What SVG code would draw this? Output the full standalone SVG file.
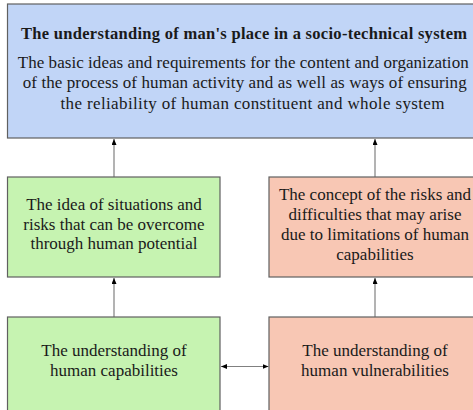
<svg xmlns="http://www.w3.org/2000/svg" width="473" height="410" viewBox="0 0 473 410">
<style>
.box{stroke:#606060;stroke-width:1.2}
.blue{fill:#c1d5f7}
.green{fill:#c6f3b1}
.salmon{fill:#f8c7b4}
text{font-family:"Liberation Serif","Times New Roman",serif;font-size:17px;fill:#1a1a1a;text-anchor:middle}
.title{font-weight:bold;font-size:16.5px}
.conn{stroke:#808080;stroke-width:1.2;fill:none}
</style>
<defs>
<marker id="ah" viewBox="0 0 6 5" refX="6" refY="2.5" markerWidth="6" markerHeight="5" markerUnits="userSpaceOnUse" orient="auto-start-reverse">
<path d="M0,0 L6,2.5 L0,5 z" fill="#000"/>
</marker>
</defs>
<g id="connectors">
<line class="conn" x1="114" y1="177" x2="114" y2="139" marker-end="url(#ah)"/>
<line class="conn" x1="375" y1="177" x2="375" y2="139" marker-end="url(#ah)"/>
<line class="conn" x1="114" y1="317" x2="114" y2="278" marker-end="url(#ah)"/>
<line class="conn" x1="375" y1="317" x2="375" y2="278" marker-end="url(#ah)"/>
<line class="conn" x1="221" y1="366.5" x2="268.5" y2="366.5" marker-start="url(#ah)" marker-end="url(#ah)"/>
</g>
<g id="node-system">
<rect class="box blue" x="7.5" y="4" width="474" height="134"/>
<text class="title" x="244" y="38.5" textLength="446" lengthAdjust="spacing">The understanding of man's place in a socio-technical system</text>
<text x="243.2" y="67.5" textLength="451" lengthAdjust="spacing">The basic ideas and requirements for the content and organization</text>
<text x="244.7" y="88" textLength="444" lengthAdjust="spacing">of the process of human activity and as well as ways of ensuring</text>
<text x="252.5" y="108.5" textLength="384" lengthAdjust="spacing">the reliability of human constituent and whole system</text>
</g>
<g id="node-situations">
<rect class="box green" x="7.5" y="177" width="212.5" height="100"/>
<text x="114" y="210">The idea of situations and</text>
<text x="114" y="229.5">risks that can be overcome</text>
<text x="114" y="249">through human potential</text>
</g>
<g id="node-risks">
<rect class="box salmon" x="269" y="177" width="212" height="100"/>
<text x="375" y="200">The concept of the risks and</text>
<text x="375" y="220">difficulties that may arise</text>
<text x="375" y="240">due to limitations of human</text>
<text x="375" y="260">capabilities</text>
</g>
<g id="node-capabilities">
<rect class="box green" x="7.5" y="317" width="212.5" height="120"/>
<text x="114" y="355.5">The understanding of</text>
<text x="114" y="375.5">human capabilities</text>
</g>
<g id="node-vulnerabilities">
<rect class="box salmon" x="269" y="317" width="212" height="120"/>
<text x="375" y="355.5">The understanding of</text>
<text x="375" y="375.5">human vulnerabilities</text>
</g>
</svg>
